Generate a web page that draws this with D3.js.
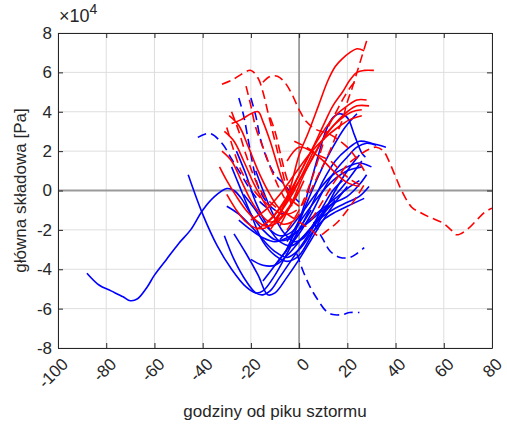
<!DOCTYPE html>
<html>
<head>
<meta charset="utf-8">
<script src="https://cdn.jsdelivr.net/npm/d3@7"></script>
<style>
  body { margin: 0; background: #fff; }
  text { font-family: "Liberation Sans", Arial, sans-serif; fill: #262626; }
</style>
</head>
<body>
<div id="chart"></div>
<script>
// tick values (y in units of 1e4 Pa)
const xTicks = [-100, -80, -60, -40, -20, 0, 20, 40, 60, 80];
const yTicks = [-8, -6, -4, -2, 0, 2, 4, 6, 8];

// each curve: [hours from storm peak, value / 1e4]
const blueSolid = [
  [[-88,-4.2],[-83,-4.8],[-78,-5.1],[-73,-5.4],[-70,-5.6],[-67,-5.5],[-63,-4.9],[-60,-4.3],[-55,-3.5],[-50,-2.7],[-45,-2.0],[-40,-1.0],[-35,-0.3],[-30,0.1],[-27,0.0],[-24,-0.4],[-20,-1.2],[-15,-2.0],[-10,-2.5],[-5,-2.5],[0,-2.0],[5,-1.4],[10,-0.9],[15,-0.4],[20,0.1],[25,0.5]],
  [[-46,0.8],[-40,-1.2],[-34,-2.8],[-28,-4.0],[-22,-4.9],[-18,-5.2],[-15,-5.1],[-10,-4.3],[-5,-3.2],[0,-2.0],[5,-1.0]],
  [[-31,-2.3],[-27,-3.5],[-22,-4.6],[-18,-5.2],[-15,-5.3],[-12,-5.1],[-8,-4.4],[-3,-3.5],[2,-2.6],[8,-1.5],[15,-0.5]],
  [[-27,-2.2],[-22,-3.2],[-17,-4.3],[-13,-5.3],[-10,-5.2],[-5,-4.4],[0,-3.5],[5,-2.5],[10,-1.5],[15,-0.6],[20,0.2]],
  [[-28,1.2],[-25,0.3],[-20,-1.2],[-15,-2.6],[-10,-3.3],[-5,-3.6],[0,-3.3],[5,-2.3],[10,-1.2],[15,0.0],[20,1.0],[25,1.8]],
  [[-26,2.0],[-22,0.8],[-18,-0.6],[-13,-1.8],[-8,-2.6],[-3,-2.8],[2,-2.3],[8,-1.4],[14,-0.4],[20,0.5],[26,1.5]],
  [[-5,-2.6],[0,-1.5],[5,0.5],[8,1.8],[11,3.0],[14,3.7],[17,3.9],[20,3.7],[23,2.8],[26,1.9],[27.5,1.7]],
  [[-6,-3.2],[-1,-1.9],[4,-0.4],[9,1.0],[14,2.2],[19,3.2],[24,3.9]],
  [[-10,-3.8],[-5,-3.0],[0,-2.0],[5,-0.8],[10,0.5],[15,1.5],[20,2.1],[25,2.5],[30,2.4],[36,2.2]],
  [[-15,-4.6],[-10,-3.8],[-5,-3.0],[0,-2.2],[5,-1.2],[10,0.0],[15,1.0],[20,1.7],[24,2.2],[28,2.4],[32,2.3]],
  [[-8,-2.5],[-3,-1.8],[2,-1.0],[8,0.0],[14,0.8],[20,1.2],[25,1.4],[30,1.2]],
  [[-20,-3.5],[-15,-3.8],[-10,-3.8],[-5,-3.3],[0,-2.6],[5,-1.9],[10,-1.3],[15,-0.9],[20,-0.6],[25,-0.3],[29,0.2]],
  [[-25,-1.5],[-20,-2.0],[-15,-2.4],[-10,-2.6],[-5,-2.4],[0,-2.0],[5,-1.5],[10,-1.0],[15,-0.6],[20,-0.3],[25,0.3],[28,0.8]],
  [[-30,-0.8],[-25,-1.2],[-20,-1.8],[-15,-2.5],[-10,-3.1],[-5,-3.4],[0,-3.0],[5,-2.2],[10,-1.5],[15,-1.1],[20,-0.8],[27,-0.4]],
  [[-23,-0.2],[-18,-1.0],[-13,-1.9],[-8,-2.3],[-3,-2.1],[2,-1.3],[8,-0.3],[14,0.5],[20,1.0],[26,1.2]],
  [[-18,1.0],[-14,-0.3],[-10,-1.4],[-6,-2.2],[-2,-2.6],[2,-2.4],[6,-1.7],[10,-0.8],[14,0.0],[18,0.5]]
];

const blueDashed = [
  [[-42,2.7],[-37,2.9],[-32,2.4],[-28,1.6],[-24,0.8],[-20,0.0],[-16,-0.6],[-12,-1.0]],
  [[-25,4.7],[-23,3.8],[-21,2.5],[-19,1.2],[-17,0.2],[-14,-0.5],[-10,-1.0],[-6,-1.2]],
  [[-20,4.7],[-18,3.8],[-16,2.6],[-13,1.5],[-10,0.8],[-6,0.3],[-3,-0.2],[0,-0.6]],
  [[-1,-3.2],[2,-4.2],[5,-5.0],[8,-5.6],[11,-6.1],[14,-6.3],[18,-6.3],[21,-6.2],[25,-6.2]],
  [[6,-1.6],[10,-2.5],[13,-3.1],[17,-3.4],[21,-3.4],[24,-3.2],[27,-2.9]]
];

const redSolid = [
  [[-12,-2.0],[-8,-1.2],[-4,0.0],[0,1.8],[4,3.0],[8,4.3],[12,5.6],[15,6.3],[18,6.7],[21,7.0],[24,7.2],[27,7.1]],
  [[-10,-1.5],[-5,-0.5],[0,0.8],[5,2.0],[10,3.3],[14,4.3],[18,5.0],[21,5.6],[24,6.0],[27,6.1],[31,6.1]],
  [[-15,-1.8],[-10,-1.2],[-5,-0.3],[0,0.8],[5,2.0],[10,3.0],[15,3.8],[20,4.3],[24,4.6],[28,4.6]],
  [[-18,-2.0],[-12,-1.5],[-6,-0.6],[0,0.5],[5,1.5],[10,2.6],[15,3.4],[20,4.0],[24,4.3],[29,4.3]],
  [[-20,-1.5],[-14,-1.0],[-8,-0.2],[-2,0.8],[4,1.8],[10,2.6],[16,3.2],[21,3.6],[26,3.8]],
  [[-8,-1.8],[-3,-0.6],[2,0.8],[7,2.0],[12,3.0],[17,3.6],[22,4.0],[26,4.1]],
  [[-31,3.0],[-27,2.5],[-23,1.5],[-19,0.4],[-15,-0.5],[-11,-1.3],[-7,-1.7],[-3,-1.6],[0,-1.2]],
  [[-29,3.8],[-25,3.3],[-21,2.2],[-17,1.0],[-13,0.0],[-9,-0.8],[-5,-1.2],[-1,-1.0]],
  [[-28,3.4],[-24,3.6],[-20,3.9],[-17,4.0],[-15,3.5],[-12,2.5],[-9,1.3],[-6,0.2],[-3,-0.5],[0,-0.8]],
  [[-33,1.2],[-30,0.5],[-26,-0.3],[-22,-1.0],[-18,-1.5],[-14,-1.8],[-10,-1.7],[-6,-1.2],[-2,-0.5],[2,0.5]],
  [[-30,-0.2],[-26,-1.0],[-22,-1.6],[-18,-1.9],[-14,-1.9],[-10,-1.5],[-6,-0.8],[-2,0.0],[2,1.0],[6,2.0]],
  [[-32,2.0],[-28,1.5],[-24,0.5],[-20,-0.5],[-16,-1.2],[-12,-1.6],[-8,-1.4],[-4,-0.8],[0,0.0]],
  [[-5,1.5],[0,2.2],[5,2.0],[10,1.5],[15,0.9],[20,0.4],[25,0.2]]
];

const redDashed = [
  [[28,7.6],[26,6.8],[24,6.0],[22,5.2],[20,4.5],[18,3.6],[16,3.0],[12,1.8],[8,0.8],[4,-0.2],[0,-1.0]],
  [[-32,5.4],[-28,5.6],[-24,5.9],[-20,6.1],[-17,5.7],[-15,5.0],[-13,4.0],[-11,3.0],[-9,2.0],[-7,1.0],[-5,0.0],[-3,-0.8]],
  [[-15,5.5],[-12,5.8],[-9,5.8],[-6,5.5],[-3,4.9],[0,4.1],[3,3.5],[7,3.1],[12,2.9],[16,2.6],[20,2.2],[24,1.6],[28,0.8]],
  [[5,-1.5],[10,-0.5],[15,0.5],[20,1.3],[25,1.8],[29,2.1],[32,2.2],[35,2.0],[37.6,1.4],[40,0.7],[42.5,0.0],[46.7,-0.85],[50,-1.1],[54,-1.35],[59.6,-1.65],[63,-2.0],[65.3,-2.25],[69.5,-2.0],[73.7,-1.5],[77,-1.1],[80,-0.9]],
  [[-28,4.0],[-25,3.0],[-22,1.8],[-19,0.8],[-16,0.0],[-12,-0.6],[-8,-1.0]],
  [[-22,5.3],[-20,4.3],[-18,3.2],[-15,2.2],[-12,1.2],[-9,0.3],[-6,-0.4]],
  [[-12,3.7],[-10,3.0],[-8,2.0],[-6,1.0],[-4,0.2],[-2,-0.5]],
  [[-30,3.2],[-27,2.0],[-24,1.0],[-20,0.2],[-15,-0.5],[-10,-1.0],[-5,-1.4]],
  [[-5,-2.0],[0,-1.0],[5,0.5],[9,2.0],[12,3.2],[15,3.9],[18,4.6],[21,5.2],[23,5.5]],
  [[-2,2.5],[3,2.2],[8,1.8],[13,1.5],[18,0.9],[22,0.5],[25,0.3]],
  [[-5,-1.2],[0,-1.6],[5,-2.0],[8,-2.3],[12,-2.0],[16,-1.6],[20,-1.0],[24,-0.3],[27,0.3]]
];

const margin = { top: 33, right: 15, bottom: 80, left: 58 },
      width = 507 - margin.left - margin.right,
      height = 428 - margin.top - margin.bottom;

const svg = d3.select("#chart").append("svg")
    .attr("width", 507)
    .attr("height", 428)
  .append("g")
    .attr("transform", `translate(${margin.left},${margin.top})`);

const x = d3.scaleLinear().domain([-100, 80]).range([0, width]);
const y = d3.scaleLinear().domain([-8, 8]).range([height, 0]);

// grid
svg.append("g").selectAll("line").data(xTicks).enter().append("line")
  .attr("x1", d => x(d)).attr("x2", d => x(d))
  .attr("y1", 0).attr("y2", height)
  .attr("stroke", "#dedede").attr("stroke-width", 1);
svg.append("g").selectAll("line").data(yTicks).enter().append("line")
  .attr("y1", d => y(d)).attr("y2", d => y(d))
  .attr("x1", 0).attr("x2", width)
  .attr("stroke", "#dedede").attr("stroke-width", 1);

// zero lines
svg.append("line").attr("x1", x(0)).attr("x2", x(0)).attr("y1", 0).attr("y2", height)
  .attr("stroke", "#9a9a9a").attr("stroke-width", 1.8);
svg.append("line").attr("x1", 0).attr("x2", width).attr("y1", y(0)).attr("y2", y(0))
  .attr("stroke", "#9a9a9a").attr("stroke-width", 1.8);

svg.append("clipPath").attr("id", "clip")
  .append("rect").attr("width", width).attr("height", height);

const line = d3.line().x(d => x(d[0])).y(d => y(d[1])).curve(d3.curveCatmullRom);

const plot = svg.append("g").attr("clip-path", "url(#clip)");
function draw(set, color, dash) {
  plot.append("g").selectAll("path").data(set).enter().append("path")
    .attr("d", line)
    .attr("fill", "none")
    .attr("stroke", color)
    .attr("stroke-width", 1.6)
    .attr("stroke-dasharray", dash);
}
draw(blueSolid, "#0000ff", null);
draw(blueDashed, "#0000ff", "9,5");
draw(redDashed, "#ff0000", "9,5");
draw(redSolid, "#ff0000", null);

// axes (box with inward ticks)
svg.append("g").attr("transform", `translate(0,${height})`)
  .call(d3.axisBottom(x).tickValues(xTicks).tickSizeInner(-5).tickSizeOuter(0).tickFormat(""));
svg.append("g")
  .call(d3.axisLeft(y).tickValues(yTicks).tickSizeInner(-5).tickSizeOuter(0).tickFormat(""));
svg.append("g")
  .call(d3.axisTop(x).tickValues(xTicks).tickSizeInner(-5).tickSizeOuter(0).tickFormat(""));
svg.append("g").attr("transform", `translate(${width},0)`)
  .call(d3.axisRight(y).tickValues(yTicks).tickSizeInner(-5).tickSizeOuter(0).tickFormat(""));
svg.selectAll(".domain, .tick line").attr("stroke", "#262626");

// tick labels
svg.append("g").selectAll("text").data(yTicks).enter().append("text")
  .attr("x", -6).attr("y", d => y(d)).attr("dy", "0.35em")
  .attr("text-anchor", "end").style("font-size", "17px")
  .text(d => d);
svg.append("g").selectAll("text").data(xTicks).enter().append("text")
  .attr("transform", d => `translate(${x(d) + 7},${height + 13}) rotate(-45)`)
  .attr("text-anchor", "end").attr("dy", "0.35em")
  .style("font-size", "17px")
  .text(d => d);

// exponent
const ex = svg.append("text").attr("x", 1).attr("y", -11).style("font-size", "18px");
ex.append("tspan").text("\u00d710");
ex.append("tspan").attr("dy", -8).style("font-size", "14px").text("4");

// axis labels
svg.append("text").attr("x", width / 2).attr("y", height + 69)
  .attr("text-anchor", "middle").style("font-size", "17px")
  .text("godziny od piku sztormu");
svg.append("text")
  .attr("transform", `translate(-32,${height / 2}) rotate(-90)`)
  .attr("text-anchor", "middle").style("font-size", "17px")
  .text("główna składowa [Pa]");
</script>
</body>
</html>
